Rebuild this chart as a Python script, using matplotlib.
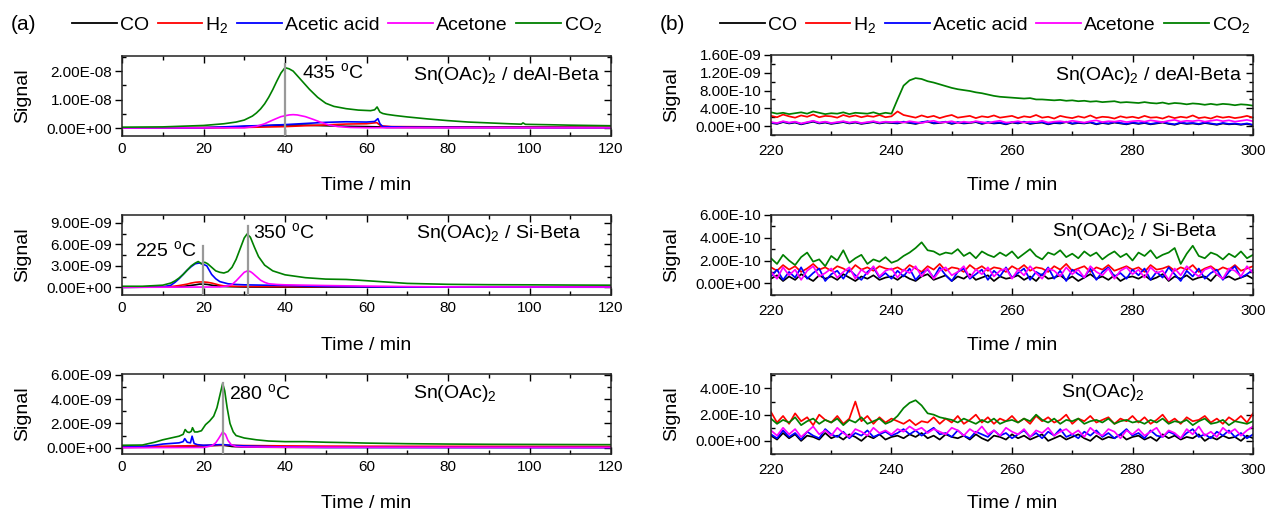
import numpy as np
import matplotlib
matplotlib.use("Agg")
import matplotlib.pyplot as plt
from matplotlib.ticker import MultipleLocator, FuncFormatter
from matplotlib.lines import Line2D

plt.rcParams['font.family'] = ['Liberation Sans', 'DejaVu Sans']
plt.rcParams['mathtext.fontset'] = 'custom'
plt.rcParams['mathtext.rm'] = 'Liberation Sans'
plt.rcParams['mathtext.it'] = 'Liberation Sans:italic'
plt.rcParams['mathtext.bf'] = 'Liberation Sans:bold'

# ---------------- legend / series names ----------------
SERIES = ['CO', 'H$_2$', 'Acetic acid', 'Acetone', 'CO$_2$']
COLORS = ['#000000', '#ff0000', '#0000ff', '#ff00ff', '#008000']

# ---------------- panel (a): TPD 0-120 min, values in 1e-9 ----------------
# row 1: Sn(OAc)2 / deAl-Beta
a1_co_t = [0, 25, 30, 35, 40, 45, 50, 55, 60, 63, 65, 120]
a1_co_v = [0, 0.2, 0.5, 0.8, 1.1, 1.0, 0.8, 0.6, 0.5, 0.4, 0.2, 0.1]
a1_h2_t = [0, 30, 40, 45, 50, 55, 60, 62.5, 63.5, 66, 80, 120]
a1_h2_v = [0, 0.2, 0.5, 0.8, 1.1, 1.4, 1.5, 1.9, 0.8, 0.5, 0.4, 0.3]
a1_aa_t = [0, 20, 25, 30, 35, 40, 45, 50, 55, 60, 62, 62.8, 63.3, 64, 70, 120]
a1_aa_v = [0, 0.1, 0.4, 0.7, 0.9, 1.2, 1.6, 2.0, 2.2, 2.1, 2.3, 3.3, 1.5, 0.5, 0.3, 0.15]
a1_ac_t = [0, 30, 33, 35, 37, 39, 41, 42, 43, 45, 47, 49, 51, 53, 56, 60, 120]
a1_ac_v = [0, 0.1, 0.6, 1.5, 2.8, 4.0, 4.6, 4.7, 4.6, 4.0, 3.0, 1.9, 1.0, 0.5, 0.2, 0.1, 0.05]
a1_co2_t = [0, 10, 20, 25, 28, 30, 32, 33, 34, 35, 36, 37, 38, 39, 40, 41, 42, 44, 46, 48,
            50, 52, 55, 58, 61, 62, 62.6, 63.3, 64, 65, 67, 70, 75, 80, 85, 90, 95, 98,
            98.4, 99, 105, 110, 120]
a1_co2_v = [0.3, 0.4, 0.9, 1.5, 2.1, 2.8, 4.2, 5.3, 6.7, 8.5, 10.8, 13.5, 16.5, 19.3, 21.2,
            20.8, 20.0, 16.8, 13.6, 10.8, 8.7, 7.6, 6.8, 6.3, 6.1, 6.4, 7.4, 5.6, 5.1, 4.8,
            4.4, 3.9, 3.2, 2.6, 2.1, 1.8, 1.5, 1.35, 1.8, 1.3, 1.15, 1.0, 0.8]

# row 2: Sn(OAc)2 / Si-Beta
a2_co_t = [0, 14, 16, 18, 19, 20, 21, 22, 24, 26, 30, 40, 120]
a2_co_v = [0, 0.05, 0.2, 0.35, 0.45, 0.45, 0.4, 0.3, 0.15, 0.1, 0.05, 0.03, 0.02]
a2_h2_t = [0, 12, 14, 16, 17, 18, 19, 20, 21, 22, 23, 24, 25, 27, 30, 40, 60, 120]
a2_h2_v = [0.05, 0.1, 0.25, 0.45, 0.6, 0.7, 0.75, 0.75, 0.7, 0.6, 0.45, 0.3, 0.2, 0.15,
           0.12, 0.1, 0.08, 0.05]
a2_aa_t = [0, 10, 12, 13, 14, 15, 16, 17, 18, 19, 20, 20.8, 21.5, 22, 23, 24, 26, 28, 30,
           35, 40, 45, 50, 60, 70, 120]
a2_aa_v = [0, 0.05, 0.3, 0.7, 1.2, 1.8, 2.4, 2.9, 3.3, 3.4, 3.2, 3.0, 2.3, 1.8, 1.2, 0.8,
           0.5, 0.4, 0.35, 0.3, 0.25, 0.18, 0.12, 0.06, 0.03, 0.02]
a2_ac_t = [0, 24, 26, 27, 28, 29, 30, 30.8, 31.5, 32, 33, 34, 35, 36, 38, 40, 45, 50, 60,
           70, 80, 120]
a2_ac_v = [0, 0.05, 0.2, 0.4, 0.9, 1.5, 2.1, 2.3, 2.2, 2.0, 1.5, 1.0, 0.7, 0.5, 0.4, 0.35,
           0.3, 0.25, 0.17, 0.1, 0.06, 0.04]
a2_co2_t = [0, 5, 10, 12, 13, 14, 15, 16, 17, 18, 18.7, 19.5, 20.3, 21, 22, 23, 24, 25, 26,
            27, 28, 29, 30, 30.7, 31.5, 32.5, 33.5, 35, 37, 40, 45, 50, 55, 58, 62, 66, 70,
            80, 90, 100, 110, 120]
a2_co2_v = [0.15, 0.15, 0.3, 0.6, 0.9, 1.3, 1.8, 2.4, 3.0, 3.4, 3.6, 3.3, 3.5, 3.3, 2.8,
            2.3, 2.1, 2.0, 2.2, 2.8, 3.9, 5.4, 6.9, 7.45, 7.0, 5.6, 4.3, 3.1, 2.3, 1.75,
            1.35, 1.15, 1.1, 1.0, 0.85, 0.7, 0.55, 0.42, 0.37, 0.35, 0.32, 0.3]

# row 3: Sn(OAc)2
a3_co_t = [0, 10, 15, 20, 24, 25, 27, 30, 40, 120]
a3_co_v = [0.02, 0.05, 0.1, 0.15, 0.2, 0.2, 0.1, 0.05, 0.03, 0.02]
a3_h2_t = [0, 10, 15, 20, 25, 30, 40, 50, 60, 120]
a3_h2_v = [0.1, 0.12, 0.15, 0.18, 0.2, 0.18, 0.15, 0.13, 0.12, 0.1]
a3_aa_t = [0, 5, 8, 10, 12, 14, 15, 15.4, 16, 16.8, 17.2, 17.7, 18.5, 20, 22, 24, 25, 26,
           28, 30, 35, 40, 50, 120]
a3_aa_v = [0.05, 0.1, 0.2, 0.3, 0.35, 0.4, 0.5, 0.75, 0.45, 0.4, 0.95, 0.35, 0.25, 0.2,
           0.22, 0.25, 0.25, 0.22, 0.18, 0.15, 0.1, 0.05, 0.02, 0.01]
a3_ac_t = [0, 20, 22, 23, 23.8, 24.7, 25.4, 26, 26.8, 28, 30, 40, 120]
a3_ac_v = [0, 0.02, 0.15, 0.4, 0.8, 1.3, 1.1, 0.6, 0.25, 0.1, 0.06, 0.04, 0.02]
a3_co2_t = [0, 5, 8, 10, 12, 14, 15, 15.5, 16, 16.5, 17, 17.3, 17.8, 18.5, 19.5, 20.5,
            21.5, 22.5, 23.3, 24, 24.7, 25.2, 25.8, 26.5, 27.3, 28, 30, 33, 36, 40, 45, 50,
            55, 60, 70, 80, 90, 100, 110, 120]
a3_co2_v = [0.2, 0.22, 0.45, 0.65, 0.8, 0.95, 1.1, 1.5, 1.3, 1.25, 1.35, 1.65, 1.3, 1.3,
            1.4, 1.9, 2.2, 2.6, 3.3, 4.3, 5.3, 4.7, 3.3, 2.0, 1.3, 1.0, 0.8, 0.65, 0.55,
            0.5, 0.5, 0.45, 0.42, 0.38, 0.33, 0.3, 0.28, 0.27, 0.26, 0.25]

# peak markers (time, top of marker line in 1e-9, label)
a1_marks = [(40.0, 22.5, '435')]
a2_marks = [(19.8, 5.75, '225'), (31.0, 8.6, '350')]
a3_marks = [(24.7, 5.3, '280')]

# ---------------- panel (b): 220-300 min, one value per minute, in 1e-11 ----------------
TIME_B = np.arange(220, 301, 1)

b1_co = [7, 5, 9, 6, 8, 4, 7, 10, 6, 8, 5, 7, 9, 6, 8, 5, 7, 9, 6, 8, 7,
         6, 9, 7, 5, 8, 10, 6, 7, 9, 5, 8, 6, 7, 9, 5, 8, 6, 7, 4, 8,
         6, 9, 5, 7, 8, 4, 7, 6, 9, 5, 7, 6, 8, 4, 7, 5, 8, 6, 4, 7,
         5, 7, 4, 6, 8, 5, 3, 7, 5, 6, 4, 7, 5, 3, 6, 4, 5, 3, 5, 2]
b1_h2 = [23, 20, 26, 22, 19, 24, 21, 26, 20, 23, 22, 19, 25, 21, 24, 20, 23, 21, 25, 20, 22,
         33, 25, 22, 19, 24, 20, 23, 18, 22, 25, 19, 21, 23, 18, 22, 20, 24, 19, 21, 23,
         18, 22, 20, 25, 19, 21, 17, 23, 20, 18, 22, 19, 24, 18, 21, 20, 17, 22, 19, 21,
         18, 23, 19, 20, 17, 22, 18, 21, 19, 24, 18, 20, 17, 22, 19, 21, 18, 20, 23, 19]
b1_aa = [8, 6, 10, 7, 9, 5, 8, 11, 7, 9, 6, 8, 10, 7, 9, 6, 8, 10, 7, 9, 8,
         7, 10, 8, 6, 9, 11, 7, 8, 10, 6, 9, 7, 8, 10, 6, 9, 7, 8, 5, 9,
         7, 10, 6, 8, 9, 5, 8, 7, 10, 6, 8, 7, 9, 5, 8, 6, 9, 7, 5, 8,
         6, 8, 5, 7, 9, 6, 4, 8, 6, 7, 5, 8, 6, 4, 7, 5, 6, 4, 6, 3]
b1_ac = [9, 7, 11, 8, 10, 6, 9, 12, 8, 10, 7, 9, 11, 8, 10, 7, 9, 11, 8, 10, 9,
         10, 8, 11, 9, 7, 10, 12, 8, 9, 11, 7, 10, 8, 11, 9, 7, 10, 12, 8, 9,
         11, 8, 10, 9, 12, 8, 10, 11, 9, 12, 10, 8, 11, 13, 9, 11, 10, 12, 9, 11,
         12, 10, 13, 11, 9, 12, 14, 10, 12, 11, 13, 10, 12, 14, 11, 13, 10, 12, 14, 11]
b1_co2 = [31, 28, 30, 27, 29, 31, 28, 33, 30, 27, 29, 28, 31, 27, 30, 29, 28, 31, 27, 30, 28,
          60, 91, 103, 108, 106, 101, 98, 94, 90, 86, 83, 81, 79, 76, 74, 71, 68, 66, 65, 64,
          63, 62, 63, 60, 60, 59, 58, 59, 57, 58, 56, 57, 55, 56, 54, 55, 56, 53, 54, 53,
          52, 54, 52, 51, 53, 50, 52, 51, 49, 51, 50, 48, 50, 48, 50, 49, 47, 49, 48, 46]

b2_co = [4, 7, 2, 6, 3, 8, 5, 2, 7, 4, 6, 3, 8, 5, 2, 6, 4, 7, 3, 5, 6,
         3, 7, 4, 2, 6, 8, 3, 5, 7, 2, 6, 4, 8, 3, 5, 7, 2, 6, 4, 5,
         7, 3, 6, 2, 8, 4, 5, 7, 3, 6, 2, 5, 8, 4, 6, 3, 7, 2, 5, 6,
         4, 7, 3, 5, 8, 2, 6, 4, 7, 3, 5, 6, 2, 8, 4, 6, 3, 5, 7, 4]
b2_h2 = [14, 11, 16, 12, 15, 10, 13, 17, 12, 14, 11, 15, 13, 10, 16, 12, 14, 11, 15, 13, 12,
         14, 11, 16, 13, 10, 15, 12, 17, 11, 14, 13, 10, 16, 12, 15, 11, 14, 13, 10, 15,
         12, 16, 11, 14, 13, 10, 15, 12, 17, 11, 13, 15, 10, 14, 12, 16, 11, 13, 15, 12,
         14, 10, 16, 12, 13, 15, 11, 14, 12, 16, 10, 13, 15, 11, 14, 12, 16, 11, 13, 15]
b2_aa = [6, 12, 3, 10, 5, 14, 4, 9, 13, 2, 8, 11, 4, 12, 7, 3, 10, 14, 5, 9, 4,
         11, 6, 13, 3, 9, 12, 5, 14, 7, 2, 10, 13, 4, 8, 12, 3, 11, 6, 14, 5,
         9, 13, 3, 10, 7, 14, 4, 11, 2, 12, 8, 5, 13, 3, 10, 14, 6, 9, 4, 12,
         7, 13, 3, 10, 5, 14, 8, 2, 11, 6, 13, 4, 9, 12, 3, 10, 15, 5, 8, 12]
b2_ac = [10, 4, 14, 7, 12, 3, 11, 15, 6, 9, 13, 5, 10, 14, 4, 12, 8, 15, 6, 11, 13,
         5, 12, 9, 15, 6, 13, 4, 11, 14, 7, 10, 15, 5, 12, 8, 14, 6, 11, 13, 4,
         12, 7, 15, 9, 4, 13, 11, 6, 14, 8, 12, 5, 15, 10, 7, 13, 4, 11, 14, 8,
         12, 5, 14, 9, 11, 3, 13, 7, 15, 10, 6, 12, 14, 8, 4, 13, 11, 6, 15, 9]
b2_co2 = [22, 17, 25, 20, 16, 23, 27, 19, 21, 15, 24, 20, 29, 18, 22, 25, 17, 21, 19, 23, 18,
          20, 24, 27, 31, 36, 29, 28, 25, 27, 26, 30, 24, 27, 22, 28, 25, 23, 27, 24, 28,
          22, 26, 30, 24, 21, 27, 25, 29, 23, 26, 22, 28, 24, 27, 21, 25, 28, 23, 26, 20,
          27, 24, 29, 22, 25, 27, 31, 17, 26, 33, 24, 22, 27, 25, 21, 26, 23, 28, 22, 25]

b3_co = [4, 1, 6, 2, 5, 0, 4, 3, 1, 6, 2, 4, 1, 5, 3, 0, 4, 2, 5, 1, 3,
         4, 2, 5, 3, 6, 2, 4, 1, 5, 3, 2, 4, 1, 5, 2, 0, 4, 3, 1, 5,
         2, 4, 1, 3, 5, 0, 2, 4, 1, 3, 5, 2, 0, 4, 1, 3, 2, 5, 1, 3,
         4, 1, 3, 0, 5, 2, 4, 1, 3, 2, 5, 0, 3, 1, 4, 2, 3, 0, 4, 2]
b3_h2 = [22, 14, 19, 13, 21, 15, 18, 12, 20, 16, 14, 19, 13, 17, 30, 15, 19, 13, 18, 14, 17,
         15, 13, 16, 12, 15, 14, 18, 13, 17, 14, 19, 13, 16, 20, 14, 18, 13, 17, 15, 19,
         14, 17, 13, 19, 15, 18, 14, 16, 20, 13, 17, 15, 19, 14, 16, 18, 13, 17, 15, 19,
         14, 18, 13, 16, 20, 14, 17, 13, 18, 15, 16, 19, 14, 17, 13, 18, 15, 19, 14, 21]
b3_aa = [5, 2, 8, 3, 6, 1, 7, 4, 2, 9, 5, 3, 7, 2, 6, 4, 8, 3, 5, 7, 4,
         6, 9, 5, 8, 4, 7, 10, 5, 6, 3, 8, 4, 2, 7, 5, 3, 8, 4, 6, 2,
         5, 8, 3, 6, 2, 7, 4, 9, 3, 5, 2, 7, 4, 8, 3, 6, 2, 5, 9, 4,
         6, 2, 8, 4, 3, 7, 5, 2, 6, 9, 3, 5, 2, 7, 4, 8, 3, 6, 2, 5]
b3_ac = [8, 4, 10, 5, 9, 3, 7, 11, 5, 8, 4, 10, 6, 3, 9, 7, 4, 10, 6, 8, 5,
         9, 7, 11, 8, 10, 6, 9, 7, 5, 10, 8, 4, 9, 6, 11, 5, 8, 4, 10, 7,
         5, 9, 3, 8, 6, 10, 4, 7, 9, 5, 8, 3, 10, 6, 4, 9, 7, 2, 8, 5,
         9, 4, 7, 10, 3, 8, 6, 2, 9, 5, 11, 4, 7, 3, 10, 6, 9, 4, 8, 11]
b3_co2 = [17, 13, 16, 14, 18, 12, 15, 17, 13, 16, 14, 17, 12, 16, 14, 18, 13, 15, 17, 13, 15,
          19, 25, 29, 31, 27, 21, 20, 18, 17, 16, 14, 17, 15, 13, 16, 14, 17, 13, 15, 16,
          14, 17, 15, 20, 16, 14, 17, 13, 16, 15, 17, 13, 15, 16, 14, 17, 13, 15, 16, 14,
          15, 13, 16, 14, 17, 13, 15, 14, 16, 12, 15, 17, 13, 14, 16, 12, 15, 14, 13, 15]

TITLES = ['Sn(OAc)$_2$ / deAl-Beta', 'Sn(OAc)$_2$ / Si-Beta', 'Sn(OAc)$_2$']

# ---------------- figure ----------------
W, H = 1270, 512
fig = plt.figure(figsize=(W / 100, H / 100), dpi=100)

def add_ax(x0, x1, y0, y1):
    return fig.add_axes([x0 / W, 1 - y1 / H, (x1 - x0) / W, (y1 - y0) / H])

def fmt(v, pos):
    return f"{v:.2E}"

TICK_FS = 11
LAB_FS = 14

def style(ax, xlim, xmaj, xmin, ylim, ymaj, ymin, ylab_x, xpad):
    ax.set_xlim(*xlim)
    ax.set_ylim(*ylim)
    ax.xaxis.set_major_locator(MultipleLocator(xmaj))
    ax.xaxis.set_minor_locator(MultipleLocator(xmin))
    ax.yaxis.set_major_locator(MultipleLocator(ymaj))
    ax.yaxis.set_minor_locator(MultipleLocator(ymin))
    ax.yaxis.set_major_formatter(FuncFormatter(fmt))
    ax.tick_params(axis='x', which='major', direction='in', length=5, width=1,
                   labelsize=TICK_FS, pad=xpad, top=True)
    ax.tick_params(axis='x', which='minor', direction='in', length=3, width=1, top=True)
    ax.tick_params(axis='y', which='major', direction='out', length=5, width=1,
                   labelsize=TICK_FS, pad=2)
    ax.tick_params(axis='y', which='minor', direction='in', length=3, width=1)
    sec = ax.secondary_yaxis('right')
    sec.yaxis.set_major_locator(MultipleLocator(ymaj))
    sec.yaxis.set_minor_locator(MultipleLocator(ymin))
    sec.tick_params(which='major', direction='in', length=5, width=1, labelright=False)
    sec.tick_params(which='minor', direction='in', length=3, width=1)
    sec.spines['right'].set_visible(False)
    for s in ax.spines.values():
        s.set_linewidth(1.1)
        s.set_color('#222222')
    ax.set_xlabel('Time / min', fontsize=LAB_FS)
    ax.xaxis.set_label_coords(0.5, -50 / 80)
    ax.xaxis.label.set_va('center')
    ax.set_ylabel('Signal', fontsize=LAB_FS)
    ax.yaxis.set_label_coords(ylab_x, 0.5)
    ax.yaxis.label.set_va('center')

LW_A = 1.2
LW_B = 1.25

rows_y = [(56, 136), (215, 295), (374, 454)]
left_x = (122, 611)
right_x = (771, 1253)

a_sets = [
    [(a1_co_t, a1_co_v), (a1_h2_t, a1_h2_v), (a1_aa_t, a1_aa_v), (a1_ac_t, a1_ac_v), (a1_co2_t, a1_co2_v)],
    [(a2_co_t, a2_co_v), (a2_h2_t, a2_h2_v), (a2_aa_t, a2_aa_v), (a2_ac_t, a2_ac_v), (a2_co2_t, a2_co2_v)],
    [(a3_co_t, a3_co_v), (a3_h2_t, a3_h2_v), (a3_aa_t, a3_aa_v), (a3_ac_t, a3_ac_v), (a3_co2_t, a3_co2_v)],
]
a_ylims = [(-2.8e-9, 2.53e-8), (-1.07e-9, 1.01e-8), (-0.52e-9, 6.08e-9)]
a_yticks = [(1e-8, 5e-9), (3e-9, 1.5e-9), (2e-9, 1e-9)]
a_marks = [a1_marks, a2_marks, a3_marks]
a_label_pos = [[(44.2, 19.8e-9, 'left')], [(18.3, 5.2e-9, 'right'), (32.1, 7.7e-9, 'left')],
               [(26.3, 4.5e-9, 'left')]]
a_title_pos = [(0.977, 0.76, 'right'), (0.94, 0.77, 'right'), (0.68, 0.76, 'center')]

for i in range(3):
    ax = add_ax(left_x[0], left_x[1], rows_y[i][0], rows_y[i][1])
    style(ax, (0, 120), 20, 10, a_ylims[i], *a_yticks[i], (22.6 - 122) / 489, 4)
    for (t, v), c in zip(a_sets[i], COLORS):
        ax.plot(t, np.array(v) * 1e-9, color=c, lw=LW_A)
    for (xm, ytop, lab), (lx, ly, ha) in zip(a_marks[i], a_label_pos[i]):
        ax.plot([xm, xm], [a_ylims[i][0], ytop * 1e-9], color='#999999', lw=1.6, zorder=5)
        ax.text(lx, ly, lab + ' $^{\\mathrm{o}}$C', fontsize=LAB_FS, ha=ha, va='center')
    tx, ty, tha = a_title_pos[i]
    ax.text(tx, ty, TITLES[i], transform=ax.transAxes, fontsize=LAB_FS, ha=tha, va='center')

b_sets = [
    [b1_co, b1_h2, b1_aa, b1_ac, b1_co2],
    [b2_co, b2_h2, b2_aa, b2_ac, b2_co2],
    [b3_co, b3_h2, b3_aa, b3_ac, b3_co2],
]
b_ylims = [(-2e-10, 1.6e-9), (-1.03e-10, 6e-10), (-1.0e-10, 5.1e-10)]
b_yticks = [(4e-10, 2e-10), (2e-10, 1e-10), (2e-10, 1e-10)]
b_title_pos = [(0.977, 0.75, 'right'), (0.927, 0.79, 'right'), (0.689, 0.77, 'center')]
b_rows_y = [(55, 135), (215, 295), (374, 454)]

for i in range(3):
    ax = add_ax(right_x[0], right_x[1], b_rows_y[i][0], b_rows_y[i][1])
    style(ax, (220, 300), 20, 10, b_ylims[i], *b_yticks[i], (672 - 771) / 482, 6.5)
    for v, c in zip(b_sets[i], COLORS):
        ax.plot(TIME_B, np.array(v) * 1e-11, color=c, lw=LW_B)
    tx, ty, tha = b_title_pos[i]
    ax.text(tx, ty, TITLES[i], transform=ax.transAxes, fontsize=LAB_FS, ha=tha, va='center')

# legends
handles = [Line2D([], [], color=c, lw=1.3) for c in COLORS]
for xl, tag, xt in [(72, '(a)', 23), (720, '(b)', 672)]:
    fig.text(xt / W, 1 - 25 / H, tag, fontsize=LAB_FS + 1, ha='center', va='center')
    fig.legend(handles, SERIES, loc='center left', bbox_to_anchor=(xl / W, 1 - 25 / H),
               ncol=5, frameon=False, fontsize=LAB_FS, handlelength=2.3,
               handletextpad=0.15, columnspacing=0.45, borderpad=0, borderaxespad=0)

fig.savefig('out.png', dpi=100)
